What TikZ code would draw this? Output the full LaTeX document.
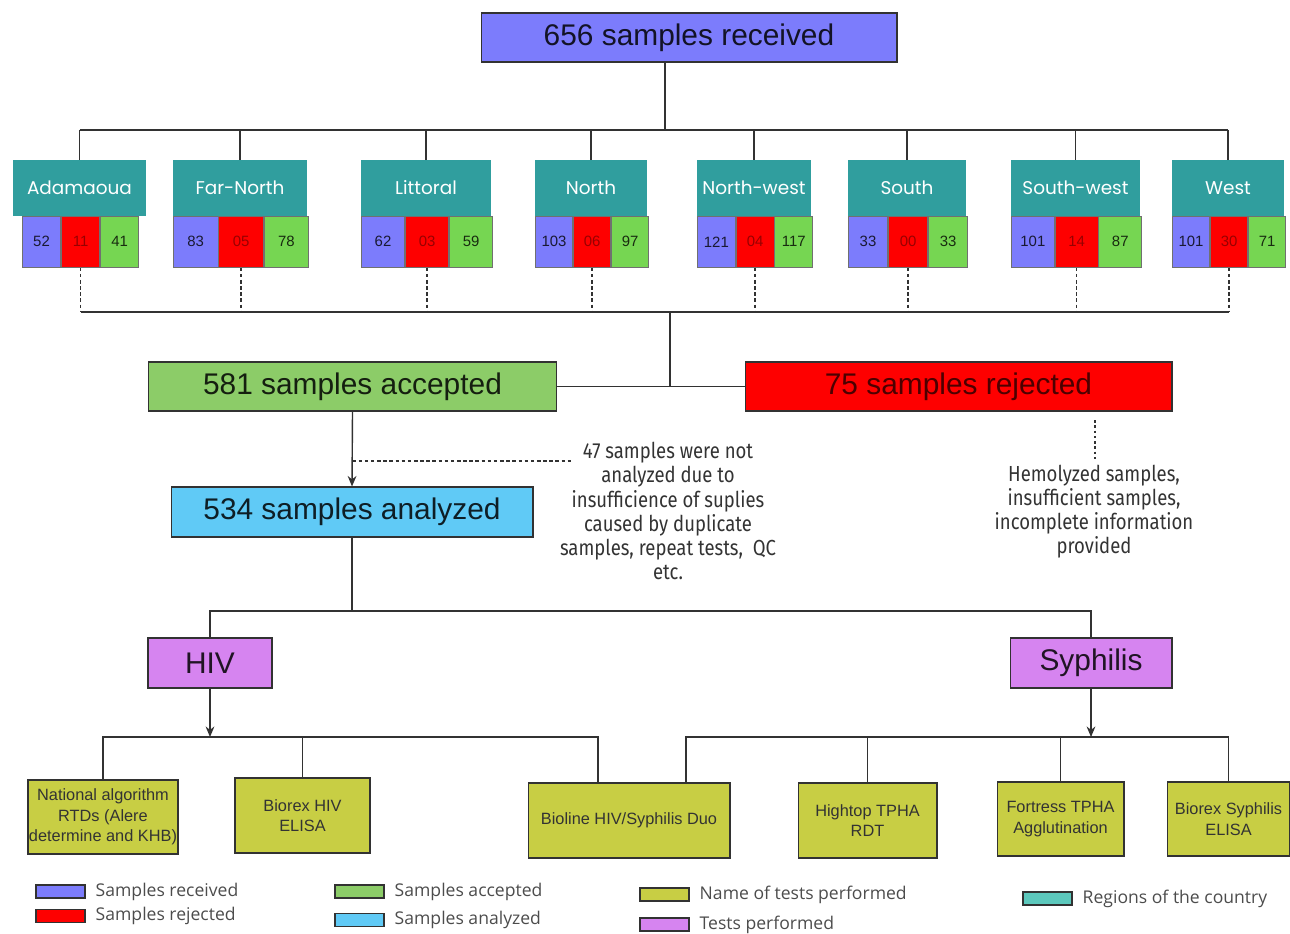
\documentclass[tikz,border=0pt]{standalone}
\usepackage{fontspec}
\setmainfont{Liberation Sans}
\newfontfamily\regionfont{Poppins}
\newfontfamily\notefont[FakeStretch=0.85]{Fira Sans}
\newfontfamily\legendfont{Open Sans}
\usetikzlibrary{arrows.meta,positioning,calc}
\definecolor{RecBlue}{RGB}{124,124,252}
\definecolor{RejRed}{RGB}{254,0,0}
\definecolor{AccGreen}{RGB}{140,204,104}
\definecolor{CellGreen}{RGB}{118,214,82}
\definecolor{AnaBlue}{RGB}{96,202,246}
\definecolor{TestViolet}{RGB}{214,132,240}
\definecolor{NameOlive}{RGB}{200,206,68}
\definecolor{RegTeal}{RGB}{48,158,158}
\definecolor{LegTeal}{RGB}{92,200,188}
\definecolor{LineGray}{RGB}{50,50,50}

\tikzset{
  px/.style={x=0.02cm,y=-0.02cm},
  bigbox/.style={draw=LineGray, line width=0.6pt, inner sep=0pt, minimum height=0.98cm,
    font=\fontsize{17}{20}\selectfont},
  regbox/.style={fill=RegTeal, text=white, inner sep=0pt, minimum height=1.12cm,
    font=\regionfont\fontsize{10.5}{13}\selectfont},
  cell/.style={draw=LineGray!70, line width=0.4pt, inner sep=0pt, minimum height=1.02cm,
    anchor=north west, font=\fontsize{8.5}{10}\selectfont},
  testbox/.style={draw=LineGray, fill=NameOlive, line width=0.6pt, align=center,
    inner sep=0pt, minimum height=1.5cm, text=black!80, font=\fontsize{9.3}{11.6}\selectfont},
  note/.style={align=center, text=black!80, font=\notefont\fontsize{12.4}{13.7}\selectfont},
  link/.style={draw=LineGray, line width=0.8pt},
  swatch/.style={draw=LineGray, line width=0.6pt, minimum width=0.98cm, minimum height=0.26cm,
    inner sep=0pt, label={[font=\legendfont\fontsize{10}{12}\selectfont, text=black!70,
    label distance=0.08cm]right:#1}},
}

\begin{document}
\begin{tikzpicture}[px]
  \useasboundingbox (0,0) rectangle (1290,933);

  % main flow
  \node[bigbox, fill=RecBlue, text=RecBlue!15!black, minimum width=8.32cm] (recv) at (689,37.5) {656 samples received};
  \node[bigbox, fill=AccGreen, text=AccGreen!15!black, minimum width=8.18cm] (acc) at (352.5,386.5) {581 samples accepted};
  \node[bigbox, fill=RejRed, text=RejRed!30!black, minimum width=8.54cm] (rej) at (958.5,386.5) {75 samples rejected};
  \node[bigbox, fill=AnaBlue, text=AnaBlue!15!black, minimum width=7.24cm, minimum height=1.0cm] (ana) at (352,512) {534 samples analyzed};
  \node[bigbox, fill=TestViolet, text=TestViolet!15!black, minimum width=2.48cm, minimum height=1.0cm] (hiv) at (210,663) {HIV};
  \node[bigbox, fill=TestViolet, text=TestViolet!15!black, minimum width=3.24cm, minimum height=1.0cm] (syp) at (1091,663) {Syphilis};

  % regions
  \foreach \r/\xl/\xr/\ins/\lab/\na/\nb/\nc in {
      1/13/146/9/Adamaoua/52/11/41, 2/173/307/0/Far-North/83/05/78,
      3/361/491/0/Littoral/62/03/59, 4/535/647/0/North/103/06/97,
      5/697/811/0/North-west/121/04/117, 6/848/966/0/South/33/00/33,
      7/1011/1140/0/South-west/101/14/87, 8/1172/1284/0/West/101/30/71} {
    \node[regbox, minimum width={(\xr-\xl)*0.02cm}] (hd\r) at ({(\xl+\xr)/2},188) {\lab};
    \node[cell, fill=RecBlue, text=RecBlue!20!black, minimum width={(\xr-\xl-2*\ins)/3*0.02cm}] (rc\r) at ({\xl+\ins},216) {\na};
    \node[cell, fill=RejRed, text=RejRed!60!black, minimum width={(\xr-\xl-2*\ins)/3*0.02cm}] (rj\r) at (rc\r.north east) {\nb};
    \node[cell, fill=CellGreen, text=CellGreen!20!black, minimum width={(\xr-\xl-2*\ins)/3*0.02cm}] (ac\r) at (rj\r.north east) {\nc};
  }

  % tests
  \node[testbox, minimum width=3.0cm, minimum height=1.48cm] (nat) at (103,817) {National algorithm\\RTDs (Alere\\determine and KHB)};
  \node[testbox, minimum width=2.7cm] (bhv) at (302.5,815.5) {Biorex HIV\\ELISA};
  \node[testbox, minimum width=4.04cm] (bio) at (629,820.5) {Bioline HIV/Syphilis Duo};
  \node[testbox, minimum width=2.78cm] (htp) at (867.5,820.5) {Hightop TPHA\\RDT};
  \node[testbox, minimum width=2.54cm, minimum height=1.48cm] (ftp) at (1060.5,819) {Fortress TPHA\\Agglutination};
  \node[testbox, minimum width=2.46cm, minimum height=1.48cm] (bsy) at (1228.5,819) {Biorex Syphilis\\ELISA};

  % notes
  \node[note] (skipnote) at (668,511) {47 samples were not\\analyzed due to\\insufficience of suplies\\caused by duplicate\\samples, repeat tests,\ \ QC\\etc.};
  \node[note] (rejnote) at (1094,512) {Hemolyzed samples,\\insufficient samples,\\incomplete information\\provided};

  % connectors
  \coordinate (topbus) at (665,130);
  \coordinate (botbus) at (670,312);
  \coordinate (join) at (670,386.5);
  \draw[link] (recv.south -| topbus) -- (topbus);
  \draw[link] (hd1.north |- topbus) -- (hd8.north |- topbus);
  \draw[link] (rj1.south |- botbus) -- (rj8.south |- botbus);
  \foreach \r in {1,...,8} {
    \draw[link] (hd\r.north) -- (hd\r.north |- topbus);
    \draw[link, dash pattern=on 2pt off 1.5pt] (rj\r.south) -- (rj\r.south |- botbus);
  }
  \draw[link] (botbus) -- (join);
  \draw[link] (acc.east) -- (rej.west);

  \coordinate (skip) at (572,461);
  \draw[link, -{Stealth[length=6pt,width=5pt]}] (acc.south) -- (ana.north);
  \draw[link, line width=0.6pt, dash pattern=on 2pt off 1.5pt] (acc.south |- skip) -- (skip);
  \coordinate (rejtick) at (1095,420);
  \draw[link, line width=0.6pt, dash pattern=on 1.5pt off 1.5pt] (rejtick) -- (rejtick |- rejnote.north);

  \coordinate (testbus) at (352,611);
  \draw[link] (ana.south) -- (testbus);
  \draw[link] (hiv.north) |- (testbus);
  \draw[link] (syp.north) |- (testbus);

  \coordinate (hivbus) at (210,737);
  \coordinate (sypbus) at (1091,737);
  \draw[link, -{Stealth[length=6pt,width=5pt]}] (hiv.south) -- (hivbus);
  \draw[link, -{Stealth[length=6pt,width=5pt]}] (syp.south) -- (sypbus);
  \draw[link] (nat.north) |- (hivbus);
  \draw[link] (hivbus) -| ($(bio.north)+(-31,0)$);
  \draw[link] (bhv.north) -- (bhv.north |- hivbus);
  \draw[link] ($(bio.north)+(57,0)$) |- (sypbus);
  \draw[link] (sypbus) -| (bsy.north);
  \draw[link] (htp.north) -- (htp.north |- sypbus);
  \draw[link] (ftp.north) -- (ftp.north |- sypbus);

  % legend
  \node[swatch=Samples received, fill=RecBlue] (leg-rec) at (60.5,891.5) {};
  \node[swatch=Samples rejected, fill=RejRed] (leg-rej) at (60.5,916) {};
  \node[swatch=Samples accepted, fill=AccGreen] (leg-acc) at (359.5,891.5) {};
  \node[swatch=Samples analyzed, fill=AnaBlue] (leg-ana) at (359.5,920) {};
  \node[swatch=Name of tests performed, fill=NameOlive] (leg-name) at (664.5,894.5) {};
  \node[swatch=Tests performed, fill=TestViolet] (leg-test) at (664.5,924.5) {};
  \node[swatch=Regions of the country, fill=LegTeal] (leg-reg) at (1047.5,898.5) {};
\end{tikzpicture}
\end{document}
